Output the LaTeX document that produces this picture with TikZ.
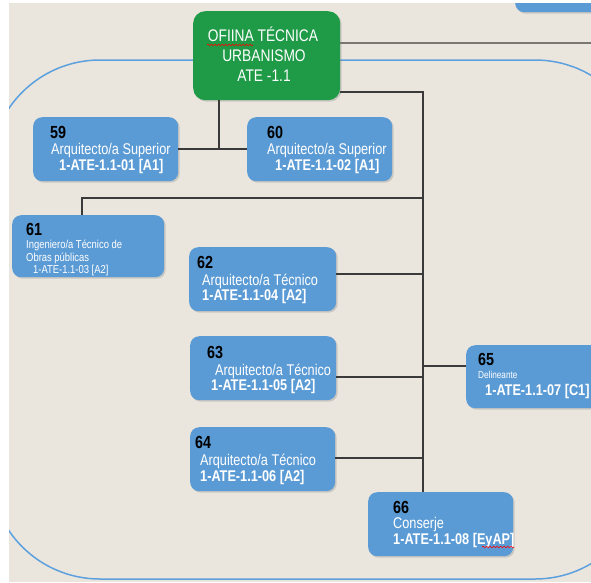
\documentclass[tikz,border=0pt]{standalone}
\usepackage{fontspec}
\setmainfont[FakeStretch=0.82]{Liberation Sans}
\usetikzlibrary{shadows,decorations.pathmorphing}
\definecolor{bg}{HTML}{EAE6DE}
\definecolor{boxblue}{HTML}{5B9BD5}
\definecolor{ofgreen}{HTML}{1F9B47}
\definecolor{outlineblue}{HTML}{5DA0DE}
\definecolor{conn}{HTML}{3A3A3A}
\definecolor{conngray}{HTML}{7A7672}
\tikzset{
 orgbox/.style={rectangle, rounded corners=9pt, fill=boxblue, inner sep=0pt, anchor=north west,
   drop shadow={shadow xshift=1.5pt, shadow yshift=-1.5pt, opacity=0.3}},
 greenbox/.style={rectangle, rounded corners=12pt, fill=ofgreen, inner sep=0pt, anchor=north west,
   drop shadow={shadow xshift=1.5pt, shadow yshift=-1.5pt, opacity=0.3}},
 numtxt/.style={anchor=base west, inner sep=0pt, text=black, font=\fontsize{17.5}{19}\selectfont\bfseries},
 roletxt/.style={anchor=base west, inner sep=0pt, text=white, font=\fontsize{15.5}{17}\selectfont},
 idtxt/.style={anchor=base west, inner sep=0pt, text=white, font=\fontsize{15.5}{17}\selectfont\bfseries},
 smalltxt/.style={anchor=base west, inner sep=0pt, text=white, font=\fontsize{11.5}{13}\selectfont},
 tinytxt/.style={anchor=base west, inner sep=0pt, text=white, font=\fontsize{10}{11}\selectfont},
 greentxt/.style={anchor=base, inner sep=0pt, text=white, font=\fontsize{16.8}{18}\selectfont},
 link/.style={draw=conn, line width=1.3pt},
 squiggle/.style={draw=red, line width=0.6pt, decorate, decoration={snake, segment length=3.5pt, amplitude=0.8pt}},
}
\newcommand\orgunit[5]{\node[orgbox, minimum width=#4pt, minimum height=#5pt] (#1) at (#2,#3) {};}
\begin{document}
\begin{tikzpicture}[x=1pt,y=-1pt]
\useasboundingbox (0,0) rectangle (591,582);
\fill[white] (0,0) rectangle (591,582);
\fill[bg] (9,3) rectangle (591,582);
\begin{scope}
\clip (9,3) rectangle (591,582);
% big outline
\draw[outlineblue, line width=1.5pt, rounded corners=110pt] (-10,60) rectangle (645,579);
% top-right partial box
\node[orgbox, minimum width=130pt, minimum height=35pt] (topbox) at (515,-23) {};
% trunk coordinates
\coordinate (tr) at (423,92);
\coordinate (j59) at (219,149);
\coordinate (k61) at (82,198);
\coordinate (k62) at (423,274);
\coordinate (k63) at (423,377);
\coordinate (k64) at (423,458);
\coordinate (k65) at (423,366);
\coordinate (edge) at (600,43);
% green box
\node[greenbox, minimum width=147pt, minimum height=89pt] (green) at (193,11) {};
% boxes
\orgunit{b59}{33}{117}{145}{64}
\orgunit{b60}{247}{117}{145}{64}
\orgunit{b61}{12}{215}{152}{62}
\orgunit{b62}{189}{247}{147}{64}
\orgunit{b63}{190}{336}{146}{64}
\orgunit{b64}{190}{427}{145}{64}
\orgunit{b65}{466}{345}{160}{63}
\orgunit{b66}{368}{492}{145}{64}
% connectors
\draw[conngray, line width=1.3pt] (green.east |- edge) -- (edge);
\draw[link] (j59 |- green.south) -- (j59);
\draw[link] (b59.east |- j59) -- (b60.west |- j59);
\draw[link] (green.east |- tr) -- (tr) -- (tr |- b66.north);
\draw[link] (tr |- k61) -- (k61) -- (k61 |- b61.north);
\draw[link] (b62.east |- k62) -- (k62);
\draw[link] (b63.east |- k63) -- (k63);
\draw[link] (b64.east |- k64) -- (k64);
\draw[link] (k65) -- (b65.west |- k65);
% green text
\node[greentxt] (g1) at (263,41) {OFIINA TÉCNICA};
\node[greentxt] (g2) at (264,61) {URBANISMO};
\node[greentxt] (g3) at (264,81) {ATE -1.1};
\draw[squiggle] (207,45) -- (253,45);
% 59
\node[numtxt] (n59) at ([shift={(17,21)}]b59.north west) {59};
\node[roletxt] (r59) at ([shift={(18,37)}]b59.north west) {Arquitecto/a Superior};
\node[idtxt] (i59) at ([shift={(26,53)}]b59.north west) {1-ATE-1.1-01 [A1]};
% 60
\node[numtxt] (n60) at ([shift={(20,21)}]b60.north west) {60};
\node[roletxt] (r60) at ([shift={(20,37)}]b60.north west) {Arquitecto/a Superior};
\node[idtxt] (i60) at ([shift={(28,53)}]b60.north west) {1-ATE-1.1-02 [A1]};
% 61
\node[numtxt] (n61) at ([shift={(14,20)}]b61.north west) {61};
\node[smalltxt] (r61a) at ([shift={(14,33)}]b61.north west) {Ingeniero/a Técnico de};
\node[smalltxt] (r61b) at ([shift={(14,46)}]b61.north west) {Obras públicas};
\node[smalltxt] (i61) at ([shift={(21,58)}]b61.north west) {1-ATE-1.1-03 [A2]};
% 62
\node[numtxt] (n62) at ([shift={(8,21)}]b62.north west) {62};
\node[roletxt] (r62) at ([shift={(13,38)}]b62.north west) {Arquitecto/a Técnico};
\node[idtxt] (i62) at ([shift={(13,53)}]b62.north west) {1-ATE-1.1-04 [A2]};
% 63
\node[numtxt] (n63) at ([shift={(17,22)}]b63.north west) {63};
\node[roletxt] (r63) at ([shift={(25,39)}]b63.north west) {Arquitecto/a Técnico};
\node[idtxt] (i63) at ([shift={(21,54)}]b63.north west) {1-ATE-1.1-05 [A2]};
% 64
\node[numtxt] (n64) at ([shift={(5,21)}]b64.north west) {64};
\node[roletxt] (r64) at ([shift={(10,38)}]b64.north west) {Arquitecto/a Técnico};
\node[idtxt] (i64) at ([shift={(10,54)}]b64.north west) {1-ATE-1.1-06 [A2]};
% 65
\node[numtxt] (n65) at ([shift={(12,20)}]b65.north west) {65};
\node[tinytxt] (r65) at ([shift={(12,33)}]b65.north west) {Delineante};
\node[idtxt] (i65) at ([shift={(19,50)}]b65.north west) {1-ATE-1.1-07 [C1]};
% 66
\node[numtxt] (n66) at ([shift={(25,21)}]b66.north west) {66};
\node[roletxt] (r66) at ([shift={(25,36)}]b66.north west) {Conserje};
\node[idtxt] (i66) at ([shift={(25,52)}]b66.north west) {1-ATE-1.1-08 [EyAP]};
\draw[squiggle] (482,547) -- (514,547);
\end{scope}
\end{tikzpicture}
\end{document}
